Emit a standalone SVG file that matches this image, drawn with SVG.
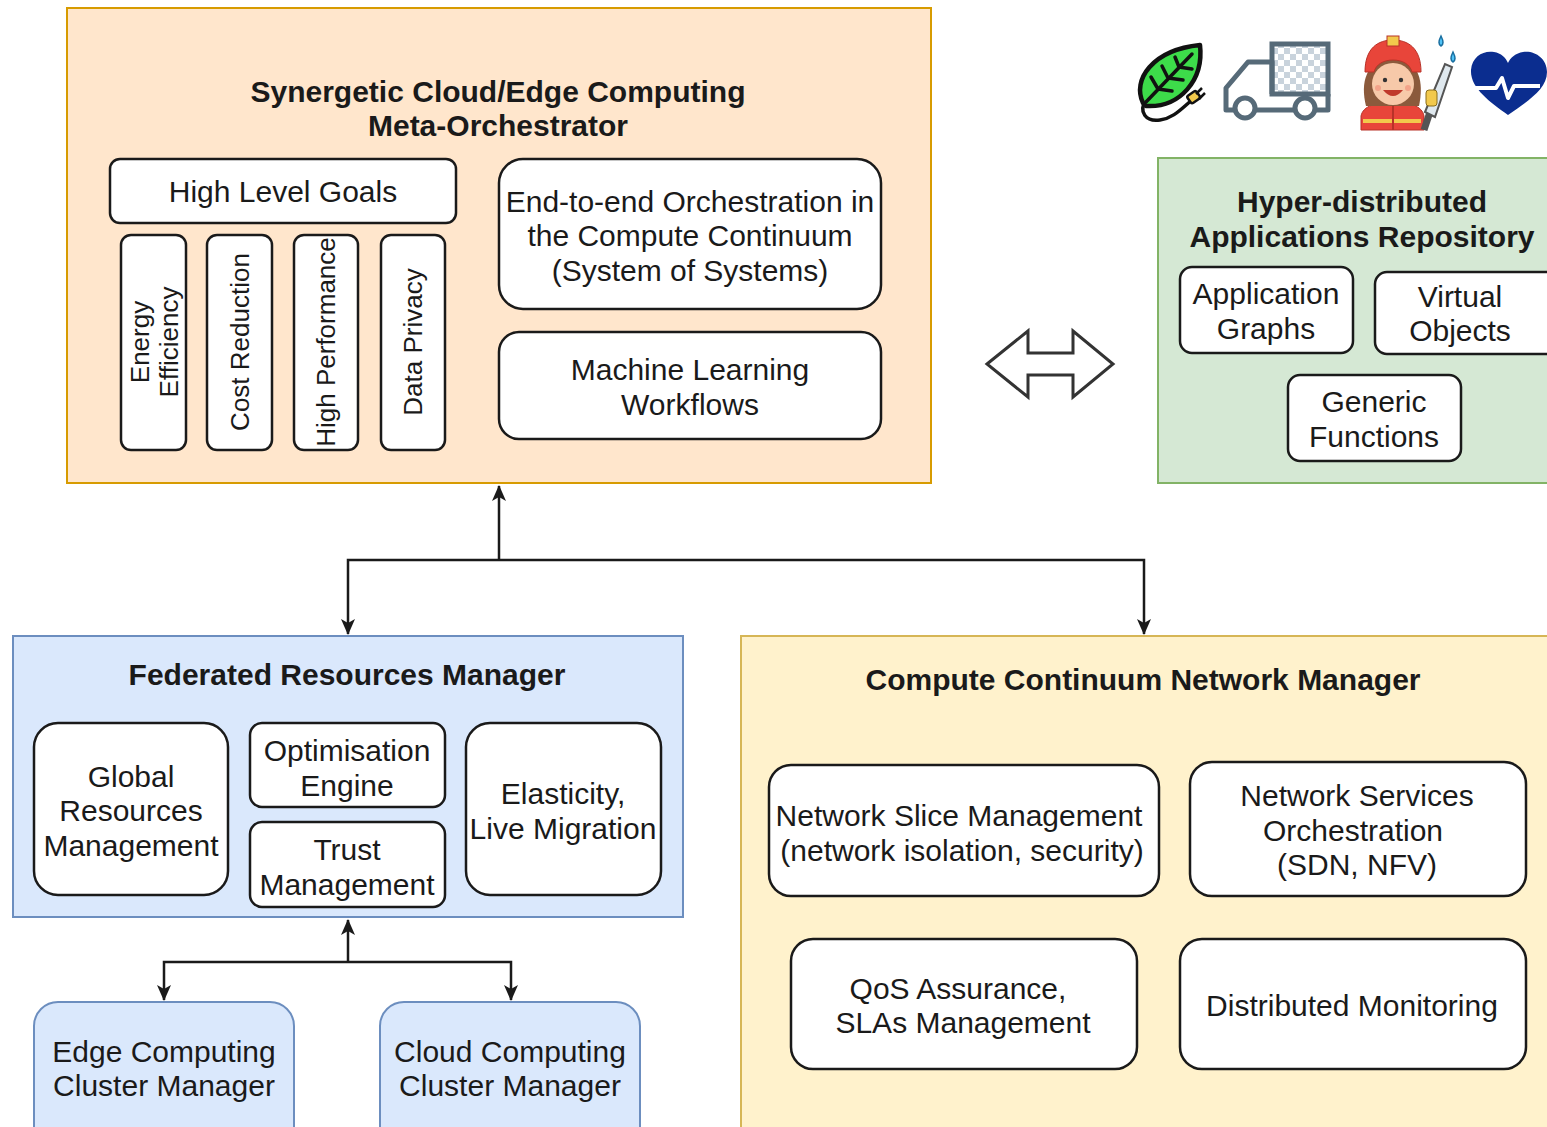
<svg xmlns="http://www.w3.org/2000/svg" width="1547" height="1127" viewBox="0 0 1547 1127">
  <defs>
    <style>
      text { font-family: "Liberation Sans", Arial, sans-serif; fill: #1a1a1a; text-anchor: middle; }
      .t { font-size: 30px; }
      .tv { font-size: 26px; }
      .b { font-size: 30px; font-weight: bold; }
      .box { fill: #ffffff; stroke: #1a1a1a; stroke-width: 2.5; }
      .conn { fill: none; stroke: #1a1a1a; stroke-width: 2.5; }
    </style>
    <marker id="arr" markerUnits="userSpaceOnUse" markerWidth="16" markerHeight="14" viewBox="0 0 16 14" refX="15" refY="7" orient="auto">
      <path d="M0,0 L16,7 L0,14 L4,7 Z" fill="#1a1a1a"/>
    </marker>
    <pattern id="checker" width="12" height="12" patternUnits="userSpaceOnUse">
      <rect width="12" height="12" fill="#ffffff"/>
      <rect width="6" height="6" fill="#c9d3dc"/>
      <rect x="6" y="6" width="6" height="6" fill="#c9d3dc"/>
    </pattern>
  </defs>

  <!-- Meta-orchestrator -->
  <g id="meta-orchestrator">
    <rect x="67" y="8" width="864" height="475" fill="#ffe6cc" stroke="#d79b00" stroke-width="2"/>
    <text class="b" x="498" y="102">Synergetic Cloud/Edge Computing</text>
    <text class="b" x="498" y="136">Meta-Orchestrator</text>
  </g>
  <g id="high-level-goals">
    <rect class="box" x="110" y="159" width="346" height="64" rx="10"/>
    <text class="t" x="283" y="202">High Level Goals</text>
  </g>
  <g id="energy-efficiency">
    <rect class="box" x="121" y="235" width="65" height="215" rx="10"/>
    <text class="tv" transform="translate(153,342) rotate(-90)"><tspan x="0" y="-4">Energy</tspan><tspan x="0" y="25">Efficiency</tspan></text>
  </g>
  <g id="cost-reduction">
    <rect class="box" x="207" y="235" width="65" height="215" rx="10"/>
    <text class="tv" transform="translate(249,342) rotate(-90)" x="0" y="0">Cost Reduction</text>
  </g>
  <g id="high-performance">
    <rect class="box" x="294" y="235" width="64" height="215" rx="10"/>
    <text class="tv" transform="translate(335,342) rotate(-90)" x="0" y="0">High Performance</text>
  </g>
  <g id="data-privacy">
    <rect class="box" x="381" y="235" width="64" height="215" rx="10"/>
    <text class="tv" transform="translate(422,342) rotate(-90)" x="0" y="0">Data Privacy</text>
  </g>
  <g id="end-to-end">
    <rect class="box" x="499" y="159" width="382" height="150" rx="24"/>
    <text class="t" x="690" y="212">End-to-end Orchestration in</text>
    <text class="t" x="690" y="246">the Compute Continuum</text>
    <text class="t" x="690" y="281">(System of Systems)</text>
  </g>
  <g id="ml-workflows">
    <rect class="box" x="499" y="332" width="382" height="107" rx="20"/>
    <text class="t" x="690" y="380">Machine Learning</text>
    <text class="t" x="690" y="415">Workflows</text>
  </g>

  <!-- Two-way link to the repository -->
  <g id="double-arrow">
    <polygon points="987,364 1028,331 1028,353 1073,353 1073,331 1113,364 1073,397 1073,375 1028,375 1028,397" fill="#ffffff" stroke="#333333" stroke-width="3" stroke-linejoin="miter"/>
  </g>

  <!-- Application repository -->
  <g id="repository">
    <rect x="1158" y="158" width="400" height="325" fill="#d5e8d4" stroke="#82b366" stroke-width="2"/>
    <text class="b" x="1362" y="212">Hyper-distributed</text>
    <text class="b" x="1362" y="247">Applications Repository</text>
  </g>
  <g id="application-graphs">
    <rect class="box" x="1180" y="267" width="173" height="86" rx="12"/>
    <text class="t" x="1266" y="304">Application</text>
    <text class="t" x="1266" y="339">Graphs</text>
  </g>
  <g id="virtual-objects">
    <rect class="box" x="1375" y="272" width="190" height="82" rx="12"/>
    <text class="t" x="1460" y="307">Virtual</text>
    <text class="t" x="1460" y="341">Objects</text>
  </g>
  <g id="generic-functions">
    <rect class="box" x="1288" y="375" width="173" height="86" rx="12"/>
    <text class="t" x="1374" y="412">Generic</text>
    <text class="t" x="1374" y="447">Functions</text>
  </g>

  <!-- Application domain icons -->
  <g id="icon-leaf">
    <path d="M1146,100 C1138,112 1146,122 1160,120 C1174,118 1182,108 1192,100" fill="none" stroke="#111" stroke-width="3.5" stroke-linecap="round"/>
    <rect x="1188" y="93" width="11" height="9" rx="2" fill="#f2c94c" stroke="#111" stroke-width="2.5" transform="rotate(-35 1193 97)"/>
    <path d="M1196,94 L1202,88 M1199,99 L1205,93" stroke="#111" stroke-width="2.5"/>
    <path d="M1143,103 C1132,80 1152,50 1200,45 C1204,80 1180,108 1146,106 Z" fill="#3ddc4a" stroke="#111" stroke-width="4.5" stroke-linejoin="round"/>
    <path d="M1146,102 L1192,54 M1158,89 L1151,77 M1158,89 L1172,91 M1168,78 L1162,66 M1168,78 L1183,80 M1179,67 L1175,57 M1179,67 L1192,69" fill="none" stroke="#111" stroke-width="3.5" stroke-linecap="round"/>
  </g>
  <g id="icon-truck">
    <rect x="1272" y="44" width="56" height="50" fill="url(#checker)" stroke="#566a78" stroke-width="5"/>
    <path d="M1272,94 L1272,62 L1248,62 L1226,88 L1226,110 L1235,110 M1256,110 L1294,110 M1316,110 L1328,110 L1328,94" fill="none" stroke="#566a78" stroke-width="5" stroke-linejoin="round"/>
    <circle cx="1245" cy="108" r="10" fill="#ffffff" stroke="#566a78" stroke-width="5"/>
    <circle cx="1305" cy="108" r="10" fill="#ffffff" stroke="#566a78" stroke-width="5"/>
  </g>
  <g id="icon-firefighter">
    <path d="M1361,130 L1361,116 C1363,106 1376,102 1393,102 C1410,102 1422,106 1424,116 L1424,130 Z" fill="#e8453a" stroke="#b83228" stroke-width="1"/>
    <rect x="1363" y="119" width="58" height="4" fill="#f2c94c"/>
    <path d="M1393,102 L1393,130" stroke="#b83228" stroke-width="2"/>
    <path d="M1366,106 C1360,82 1366,60 1393,58 C1420,60 1424,82 1419,106 Z" fill="#8b5a3c"/>
    <ellipse cx="1393" cy="84" rx="21" ry="21" fill="#f7c9a9"/>
    <path d="M1383,90 Q1393,102 1403,90 Z" fill="#c0392b"/>
    <circle cx="1385" cy="80" r="2.2" fill="#333"/>
    <circle cx="1401" cy="80" r="2.2" fill="#333"/>
    <circle cx="1378" cy="88" r="3" fill="#f2a38a"/>
    <circle cx="1408" cy="88" r="3" fill="#f2a38a"/>
    <path d="M1365,72 C1365,48 1378,40 1393,40 C1408,40 1421,48 1421,72 L1412,72 C1410,64 1402,60 1393,60 C1384,60 1376,64 1374,72 Z" fill="#e8453a" stroke="#b83228" stroke-width="1"/>
    <rect x="1387" y="36" width="12" height="10" fill="#f2c94c" stroke="#b83228" stroke-width="1"/>
    <path d="M1424,130 L1430,112" stroke="#555" stroke-width="7"/>
    <path d="M1425,112 L1445,64 L1452,67 L1435,117 Z" fill="#dfe8ee" stroke="#555" stroke-width="2"/>
    <rect x="1426" y="90" width="11" height="16" rx="3" fill="#f2c94c" stroke="#8a6d1a" stroke-width="1"/>
    <path d="M1441,36 q-4,8 0,10 q4,-2 0,-10 Z" fill="#4fc3f7" stroke="#1a6fa0" stroke-width="1.5"/>
    <path d="M1453,52 q-4,8 0,10 q4,-2 0,-10 Z" fill="#4fc3f7" stroke="#1a6fa0" stroke-width="1.5"/>
  </g>
  <g id="icon-heart">
    <path d="M1508,115 C1490,102 1470,88 1471,70 C1472,56 1484,50 1494,52 C1501,53 1506,58 1508,63 C1510,58 1516,53 1523,52 C1534,50 1547,58 1547,72 C1547,90 1526,102 1508,115 Z" fill="#0b2d8f"/>
    <path d="M1472,88 L1496,88 L1502,78 L1508,98 L1514,86 L1540,86" fill="none" stroke="#ffffff" stroke-width="4" stroke-linejoin="round"/>
  </g>

  <!-- Federated resources manager -->
  <g id="federated-manager">
    <rect x="13" y="636" width="670" height="281" fill="#dae8fc" stroke="#6c8ebf" stroke-width="2"/>
    <text class="b" x="347" y="685">Federated Resources Manager</text>
  </g>
  <g id="global-resources">
    <rect class="box" x="34" y="723" width="194" height="172" rx="24"/>
    <text class="t" x="131" y="787">Global</text>
    <text class="t" x="131" y="821">Resources</text>
    <text class="t" x="131" y="856">Management</text>
  </g>
  <g id="optimisation-engine">
    <rect class="box" x="250" y="723" width="195" height="84" rx="12"/>
    <text class="t" x="347" y="761">Optimisation</text>
    <text class="t" x="347" y="796">Engine</text>
  </g>
  <g id="trust-management">
    <rect class="box" x="250" y="822" width="195" height="85" rx="12"/>
    <text class="t" x="347" y="860">Trust</text>
    <text class="t" x="347" y="895">Management</text>
  </g>
  <g id="elasticity">
    <rect class="box" x="466" y="723" width="195" height="172" rx="24"/>
    <text class="t" x="563" y="804">Elasticity,</text>
    <text class="t" x="563" y="839">Live Migration</text>
  </g>
  <g id="edge-cluster">
    <rect x="34" y="1002" width="260" height="150" rx="24" fill="#dae8fc" stroke="#6c8ebf" stroke-width="2"/>
    <text class="t" x="164" y="1062">Edge Computing</text>
    <text class="t" x="164" y="1096">Cluster Manager</text>
  </g>
  <g id="cloud-cluster">
    <rect x="380" y="1002" width="260" height="150" rx="24" fill="#dae8fc" stroke="#6c8ebf" stroke-width="2"/>
    <text class="t" x="510" y="1062">Cloud Computing</text>
    <text class="t" x="510" y="1096">Cluster Manager</text>
  </g>

  <!-- Network manager -->
  <g id="network-manager">
    <rect x="741" y="636" width="820" height="510" fill="#fff2cc" stroke="#d6b656" stroke-width="2"/>
    <text class="b" x="1143" y="690">Compute Continuum Network Manager</text>
  </g>
  <g id="network-slice">
    <rect class="box" x="769" y="765" width="390" height="131" rx="22"/>
    <text class="t" x="959" y="826">Network Slice Management</text>
    <text class="t" x="962" y="861">(network isolation, security)</text>
  </g>
  <g id="network-services">
    <rect class="box" x="1190" y="762" width="336" height="134" rx="22"/>
    <text class="t" x="1357" y="806">Network Services</text>
    <text class="t" x="1353" y="841">Orchestration</text>
    <text class="t" x="1357" y="875">(SDN, NFV)</text>
  </g>
  <g id="qos">
    <rect class="box" x="791" y="939" width="346" height="130" rx="22"/>
    <text class="t" x="958" y="999">QoS Assurance,</text>
    <text class="t" x="963" y="1033">SLAs Management</text>
  </g>
  <g id="monitoring">
    <rect class="box" x="1180" y="939" width="346" height="130" rx="22"/>
    <text class="t" x="1352" y="1016">Distributed Monitoring</text>
  </g>

  <!-- Connectors -->
  <g id="connectors">
    <path class="conn" d="M499,560 L499,486" marker-end="url(#arr)"/>
    <path class="conn" d="M499,560 L348,560 L348,634" marker-end="url(#arr)"/>
    <path class="conn" d="M499,560 L1144,560 L1144,634" marker-end="url(#arr)" stroke="#333"/>
    <path class="conn" d="M348,962 L348,920" marker-end="url(#arr)"/>
    <path class="conn" d="M348,962 L164,962 L164,1000" marker-end="url(#arr)"/>
    <path class="conn" d="M348,962 L511,962 L511,1000" marker-end="url(#arr)"/>
  </g>
</svg>
